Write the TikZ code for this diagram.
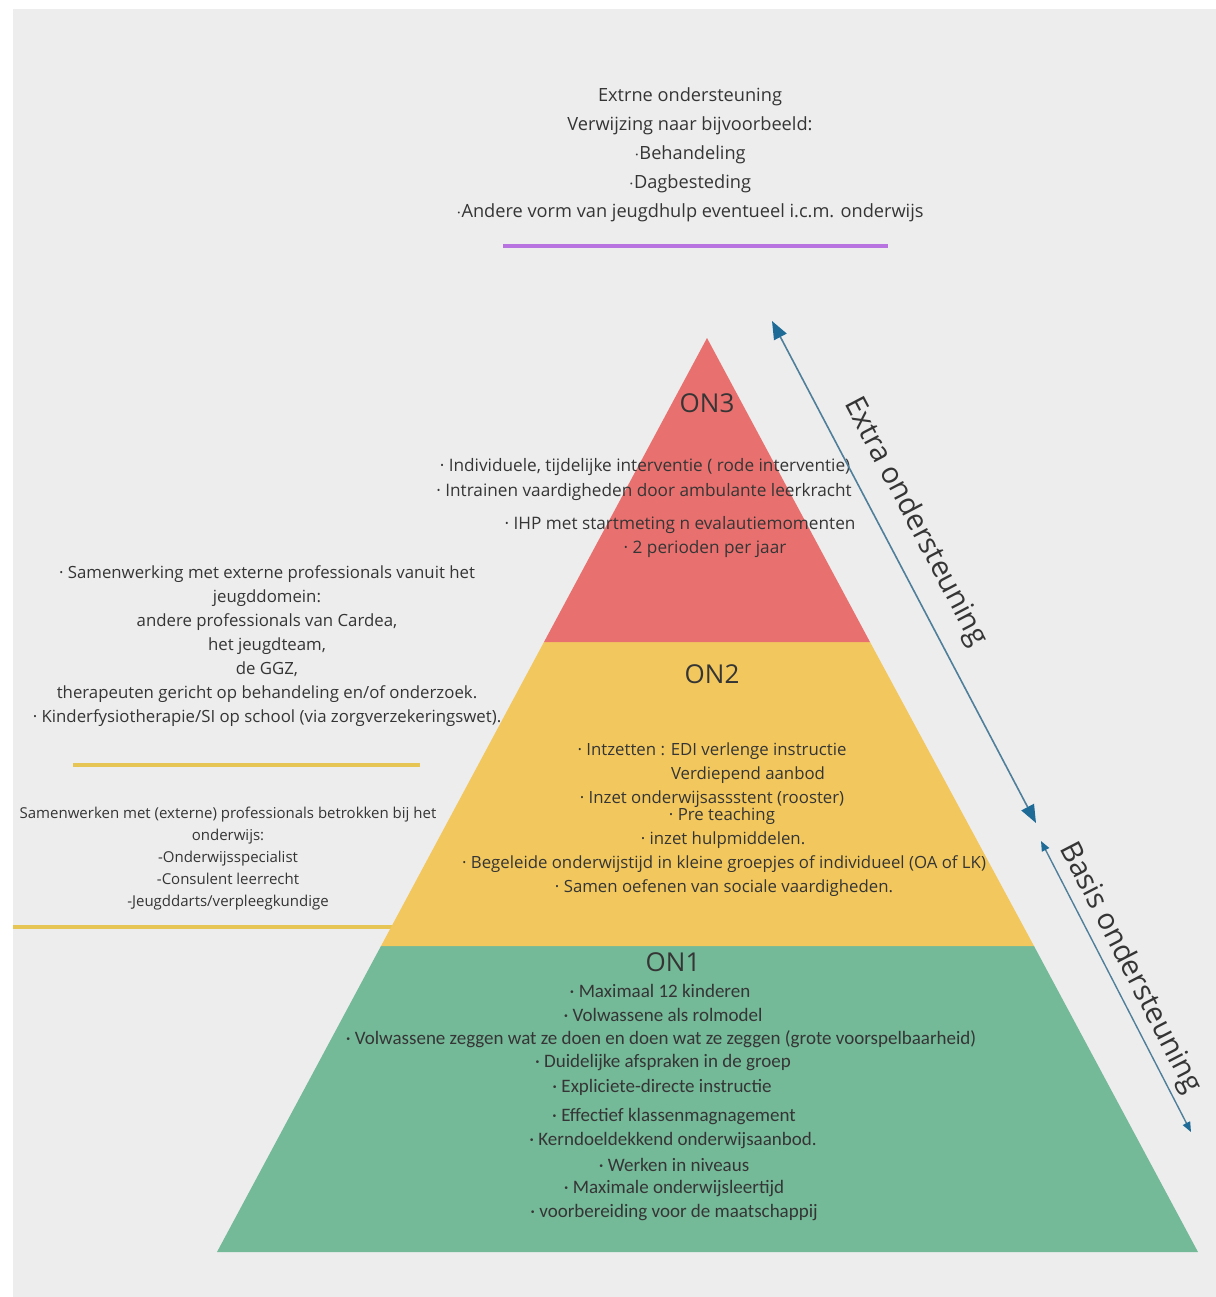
\documentclass[tikz,border=0pt]{standalone}
\usepackage{fontspec}
\setmainfont{Open Sans}
\newfontfamily\condfont{Carlito}
\usetikzlibrary{arrows.meta}
\definecolor{bggray}{HTML}{EDEDED}
\definecolor{redlayer}{HTML}{E8716F}
\definecolor{yellowlayer}{HTML}{F2C85E}
\definecolor{greenlayer}{HTML}{74B998}
\definecolor{arrowblue}{HTML}{1E6B98}
\definecolor{arrowline}{HTML}{4F7F9A}
\definecolor{purpleline}{HTML}{B873E0}
\definecolor{goldline}{HTML}{E6C554}
\definecolor{txt}{HTML}{353535}
\begin{document}
\begin{tikzpicture}[x=0.5pt,y=-0.5pt,
  lbl/.style={text=txt,inner sep=0pt,anchor=center},
  toptext/.style={lbl,align=center,font=\fontsize{9.1}{14.5}\selectfont},
  sidetext/.style={lbl,align=center,font=\fontsize{8.4}{12}\selectfont},
  sidetextb/.style={lbl,align=center,font=\fontsize{7.5}{11}\selectfont},
  onthree/.style={lbl,font=\fontsize{8.6}{9}\selectfont},
  ontwo/.style={lbl,font=\fontsize{8.4}{9}\selectfont},
  onone/.style={lbl,font=\condfont\fontsize{9.5}{10}\selectfont},
  levellabel/.style={lbl,font=\fontsize{13}{15}\selectfont},
  sidelabel/.style={lbl,font=\fontsize{14.6}{16}\selectfont},
  bigarrow/.style={arrowline,line width=0.8pt,{Triangle[length=9pt,width=7pt,color=arrowblue]}-{Triangle[length=9pt,width=7pt,color=arrowblue]}},
  smallarrow/.style={arrowline,line width=0.7pt,{Triangle[length=5pt,width=4pt,color=arrowblue]}-{Triangle[length=5pt,width=4pt,color=arrowblue]}},
  rule/.style={line width=1.6pt}
]
\useasboundingbox (0,0) rectangle (1216,1297);
\fill[white] (0,0) rectangle (1216,1297);
\fill[bggray] (13,9) rectangle (1216,1297);

% top block
\node[toptext] (top) at (690,155) {Extrne ondersteuning\\Verwijzing naar bijvoorbeeld:\\$\cdot$Behandeling\\$\cdot$Dagbesteding\\$\cdot$Andere vorm van jeugdhulp eventueel i.c.m. onderwijs};
\draw[rule,purpleline] (503,246) -- (888,246);

% left lines
\draw[rule,goldline] (73,765) -- (420,765);
\draw[rule,goldline] (13,927) -- (392,927);

% pyramid
\fill[greenlayer] (381,946) -- (1034,946) -- (1198,1252) -- (217,1252) -- cycle;
\fill[yellowlayer] (544,642) -- (870,642) -- (1034,946) -- (381,946) -- cycle;
\fill[redlayer] (707,338) -- (870,642) -- (544,642) -- cycle;

% ON3
\node[levellabel] (on3) at (707,403) {ON3};
\node[onthree] (a1) at (645,467) {· Individuele, tijdelijke interventie ( rode interventie)};
\node[onthree] (a2) at (644,492) {· Intrainen vaardigheden door ambulante leerkracht};
\node[onthree] (a3) at (680,525) {· IHP met startmeting n evalautiemomenten};
\node[onthree] (a4) at (705,549) {· 2 perioden per jaar};

% ON2
\node[levellabel] (on2) at (712,674) {ON2};
\node[ontwo] (b1) at (712,751) {· Intzetten : EDI verlenge instructie};
\node[ontwo] (b2) at (748,775) {Verdiepend aanbod};
\node[ontwo] (b3) at (712,799) {· Inzet onderwijsassstent (rooster)};
\node[ontwo] (b4) at (722,816) {· Pre teaching};
\node[ontwo] (b5) at (723,840) {· inzet hulpmiddelen.};
\node[ontwo] (b6) at (724,864) {· Begeleide onderwijstijd in kleine groepjes of individueel (OA of LK)};
\node[ontwo] (b7) at (724,888) {· Samen oefenen van sociale vaardigheden.};

% ON1
\node[levellabel] (on1) at (673,962) {ON1};
\node[onone] (c1) at (660,991) {· Maximaal 12 kinderen};
\node[onone] (c2) at (663,1015) {· Volwassene als rolmodel};
\node[onone] (c3) at (661,1039) {· Volwassene zeggen wat ze doen en doen wat ze zeggen (grote voorspelbaarheid)};
\node[onone] (c4) at (663,1063) {· Duidelijke afspraken in de groep};
\node[onone] (c5) at (662,1087) {· Expliciete-directe instructie};
\node[onone] (c6) at (674,1117) {· Effectief klassenmagnagement};
\node[onone] (c7) at (673,1141) {· Kerndoeldekkend onderwijsaanbod.};
\node[onone] (c8) at (674,1165) {· Werken in niveaus};
\node[onone] (c9) at (674,1189) {· Maximale onderwijsleertijd};
\node[onone] (c10) at (674,1213) {· voorbereiding voor de maatschappij};

% left blocks
\node[sidetext] (left1) at (267,646) {· Samenwerking met externe professionals vanuit het\\jeugddomein:\\andere professionals van Cardea,\\het jeugdteam,\\de GGZ,\\therapeuten gericht op behandeling en/of onderzoek.\\· Kinderfysiotherapie/SI op school (via zorgverzekeringswet).};
\node[sidetextb] (left2) at (228,859) {Samenwerken met (externe) professionals betrokken bij het\\onderwijs:\\-Onderwijsspecialist\\-Consulent leerrecht\\-Jeugddarts/verpleegkundige};

% arrows
\coordinate (ea) at (772,321);
\coordinate (eb) at (1036,823);
\coordinate (ba) at (1041,841);
\coordinate (bb) at (1191,1132);
\draw[bigarrow] (ea) -- (eb);
\draw[smallarrow] (ba) -- (bb);
\node[sidelabel,rotate=-62.3] (extra) at (915,522) {Extra ondersteuning};
\node[sidelabel,rotate=-62.7] (basis) at (1130,968) {Basis ondersteuning};
\end{tikzpicture}
\end{document}
